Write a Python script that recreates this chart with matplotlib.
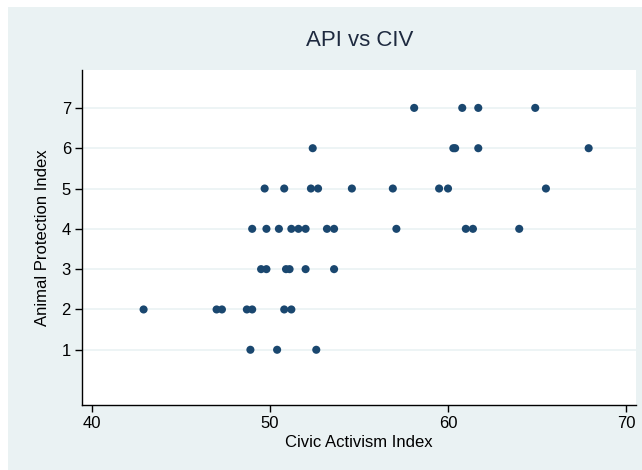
import matplotlib
matplotlib.use('Agg')
import matplotlib.pyplot as plt
from matplotlib.patches import Rectangle

# Civic Activism Index (x) and Animal Protection Index (y)
civ = [58.1, 60.8, 61.7, 64.9,
       52.4, 60.3, 60.4, 61.7, 67.9,
       49.7, 50.8, 52.3, 52.7, 54.6, 56.9, 59.5, 60.0, 65.5,
       49.0, 49.8, 50.5, 51.2, 51.6, 52.0, 53.2, 53.6, 57.1, 61.0, 61.4, 64.0,
       49.5, 49.8, 50.9, 51.1, 52.0, 53.6,
       42.9, 47.0, 47.3, 48.7, 49.0, 50.8, 51.2,
       48.9, 50.4, 52.6]
api = [7, 7, 7, 7,
       6, 6, 6, 6, 6,
       5, 5, 5, 5, 5, 5, 5, 5, 5,
       4, 4, 4, 4, 4, 4, 4, 4, 4, 4, 4, 4,
       3, 3, 3, 3, 3, 3,
       2, 2, 2, 2, 2, 2, 2,
       1, 1, 1]

x_ticks = [40, 50, 60, 70]
y_ticks = [1, 2, 3, 4, 5, 6, 7]

plt.rcParams['font.family'] = ['Liberation Sans', 'DejaVu Sans']

fig = plt.figure(figsize=(6.42, 4.70), dpi=100)
fig.patch.set_facecolor('white')
# light stata-like background, slightly inset at top/left
fig.patches.append(Rectangle((8 / 642, 0), 1, 1 - 7 / 470, transform=fig.transFigure,
                             facecolor='#EAF2F3', edgecolor='none', zorder=-10))

ax = fig.add_axes([82 / 642, 1 - 405 / 470, (636 - 82) / 642, (405 - 70) / 470])
ax.set_facecolor('white')
ax.scatter(civ, api, s=34, color='#1A476F', edgecolors='none', zorder=3)

ax.set_xlim(39.44, 70.56)
ax.set_ylim(-0.37, 7.94)
ax.set_xticks(x_ticks)
ax.set_yticks(y_ticks)
ax.yaxis.grid(True, color='#EAF2F3', linewidth=1.2, zorder=0)
ax.set_axisbelow(True)

for side in ['top', 'right']:
    ax.spines[side].set_visible(False)
for side in ['left', 'bottom']:
    ax.spines[side].set_color('black')
    ax.spines[side].set_linewidth(1.0)

ax.tick_params(axis='both', direction='out', length=5, width=1, color='black',
               labelsize=12, labelcolor='black', pad=3)

ax.set_xlabel('Civic Activism Index', fontsize=12, labelpad=3)
ax.set_ylabel('Animal Protection Index', fontsize=12, labelpad=8)
fig.text(0.56, 1 - 41 / 470, 'API vs CIV', fontsize=16, color='#1E2A3F',
         ha='center', va='center')

plt.savefig('out.png', dpi=100)
plt.close()
